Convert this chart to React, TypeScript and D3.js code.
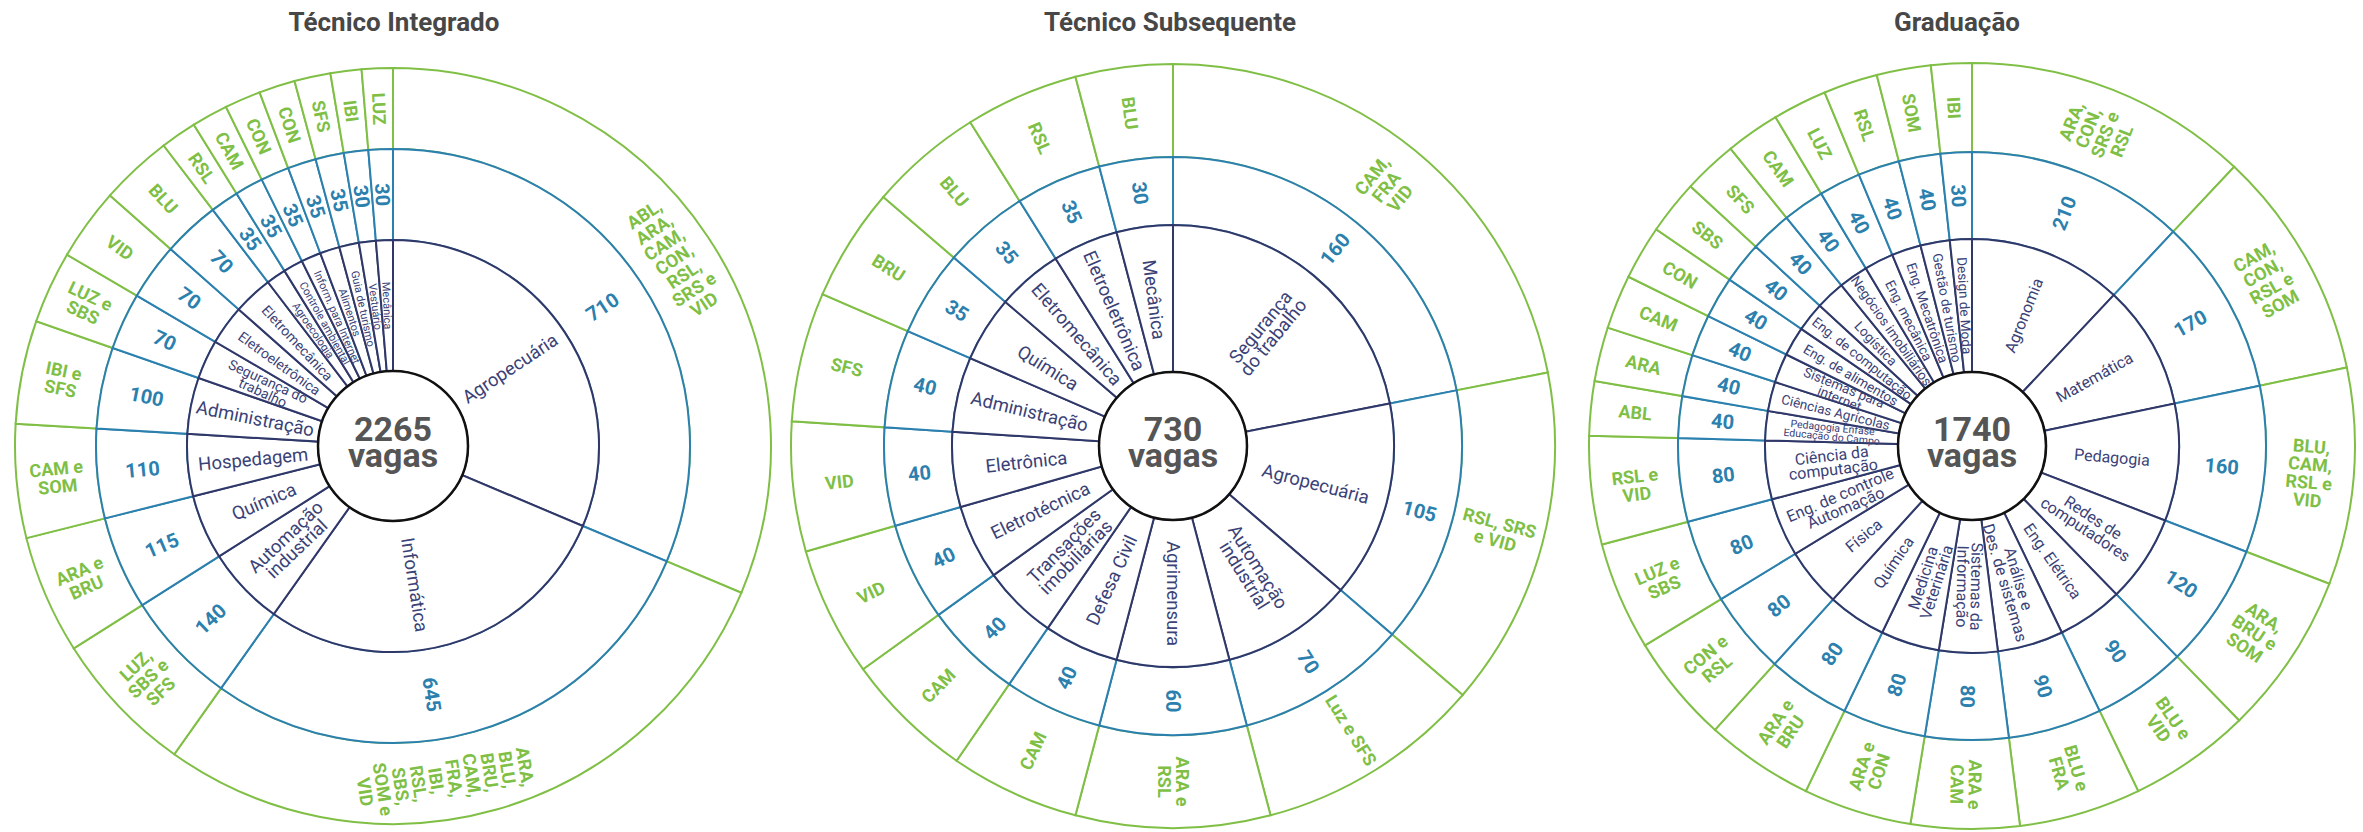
import React, { useEffect, useRef } from "react";
import * as d3 from "d3";

// Técnico Integrado
const integradoCursos = [
  "Agropecuária", "Informática", "Automação\nindustrial", "Química", "Hospedagem",
  "Administração", "Segurança do\ntrabalho", "Eletroeletrônica", "Eletromecânica",
  "Agroecologia", "Controle ambiental", "Inform. para Internet", "Alimentos",
  "Guia de turismo", "Vestuário", "Mecânica",
];
const integradoVagas = [710, 645, 140, 115, 110, 100, 70, 70, 70, 35, 35, 35, 35, 35, 30, 30];
const integradoCampi = [
  "ABL,\nARA,\nCAM,\nCON,\nRSL,\nSRS e\nVID",
  "ARA,\nBLU,\nBRU,\nCAM,\nFRA,\nIBI,\nRSL,\nSBS,\nSOM e\nVID",
  "LUZ,\nSBS e\nSFS", "ARA e\nBRU", "CAM e\nSOM", "IBI e\nSFS", "LUZ e\nSBS",
  "VID", "BLU", "RSL", "CAM", "CON", "CON", "SFS", "IBI", "LUZ",
];

// Técnico Subsequente
const subsequenteCursos = [
  "Segurança\ndo trabalho", "Agropecuária", "Automação\nindustrial", "Agrimensura",
  "Defesa Civil", "Transações\nimobiliárias", "Eletrotécnica", "Eletrônica",
  "Administração", "Química", "Eletromecânica", "Eletroeletrônica", "Mecânica",
];
const subsequenteVagas = [160, 105, 70, 60, 40, 40, 40, 40, 40, 35, 35, 35, 30];
const subsequenteCampi = [
  "CAM,\nFRA\nVID", "RSL, SRS\ne VID", "Luz e SFS", "ARA e\nRSL",
  "CAM", "CAM", "VID", "VID", "SFS", "BRU", "BLU", "RSL", "BLU",
];

// Graduação
const graduacaoCursos = [
  "Agronomia", "Matemática", "Pedagogia", "Redes de\ncomputadores", "Eng. Elétrica",
  "Análise e\nDes. de sistemas", "Sistemas da\nInformação", "Medicina\nVeterinária",
  "Química", "Física", "Eng. de controle\nAutomação", "Ciência da\ncomputação",
  "Pedagogia Ênfase\nEducação do Campo", "Ciências Agrícolas", "Sistemas para\ninternet",
  "Eng. de alimentos", "Eng. de computação", "Logística", "Negócios imobiliários",
  "Eng. mecânica", "Eng. Mecatrônica", "Gestão de turismo", "Design de Moda",
];
const graduacaoVagas = [210, 170, 160, 120, 90, 90, 80, 80, 80, 80, 80, 80, 40, 40, 40, 40, 40, 40, 40, 40, 40, 40, 30];
const graduacaoCampi = [
  "ARA,\nCON,\nSRS e\nRSL", "CAM,\nCON,\nRSL e\nSOM", "BLU,\nCAM,\nRSL e\nVID",
  "ARA,\nBRU e\nSOM", "BLU e\nVID", "BLU e\nFRA", "ARA e\nCAM", "ARA e\nCON",
  "ARA e\nBRU", "CON e\nRSL", "LUZ e\nSBS", "RSL e\nVID",
  "ABL", "ARA", "CAM", "CON", "SBS", "SFS", "CAM", "LUZ", "RSL", "SOM", "IBI",
];

const titles = ["Técnico Integrado", "Técnico Subsequente", "Graduação"];
const totals = ["2265", "730", "1740"];

const NAVY = "#2f3869";
const NAVY_TEXT = "#3a4277";
const BLUE = "#2b80ae";
const GREEN = "#80bf46";
const FONT = "Roboto, 'Noto Sans', sans-serif";
const CY = 446;

// layout of each wheel: center x, ring radii (center, cursos, vagas, campi)
const layout = [
  { cx: 393, titleX: 394, radii: [75, 206, 297, 378], navySize: (deg) => (deg < 8 ? 11 : deg < 14 ? 14 : 18.5) },
  { cx: 1173, titleX: 1170, radii: [74, 221, 289, 382], navySize: () => 18.5 },
  { cx: 1972, titleX: 1957, radii: [74, 207, 294, 383], navySize: (deg) => (deg < 10 ? 13.5 : 16) },
];

const tinyLabels = new Set(["Pedagogia Ênfase\nEducação do Campo"]);
// the original nudges the Informática labels a bit past the slice middle
const labelShift = [{ "Informática": 7 }, {}, {}];

function addLabel(g, d, radius, text, size, lineH, color, weight, shiftDeg) {
  const mid = (d.startAngle + d.endAngle) / 2 + (shiftDeg * Math.PI) / 180;
  const deg = (mid * 180) / Math.PI;
  const rot = deg > 185 ? deg + 90 : deg - 90;
  const x = radius * Math.sin(mid);
  const y = -radius * Math.cos(mid);
  const lines = text.split("\n");
  const t = g
    .append("text")
    .attr("transform", `translate(${x},${y}) rotate(${rot})`)
    .attr("text-anchor", "middle")
    .attr("fill", color)
    .style("font-family", FONT)
    .style("font-size", `${size}px`)
    .style("font-weight", weight);
  lines.forEach((ln, i) => {
    t.append("tspan")
      .attr("x", 0)
      .attr("y", (i - (lines.length - 1) / 2) * lineH)
      .attr("dy", "0.35em")
      .text(ln);
  });
}

function drawWheel(svg, idx, cursos, vagas, campi) {
  const { cx, titleX, radii, navySize } = layout[idx];
  const [r0, r1, r2, r3] = radii;

  svg
    .append("text")
    .attr("x", titleX)
    .attr("y", 31)
    .attr("text-anchor", "middle")
    .attr("fill", "#474747")
    .style("font-family", FONT)
    .style("font-size", "26px")
    .style("font-weight", 700)
    .text(titles[idx]);

  const arcs = d3.pie().sort(null).value((d) => d)(vagas);
  const g = svg.append("g").attr("transform", `translate(${cx},${CY})`);

  const rings = [
    { inner: r2, outer: r3, color: GREEN },
    { inner: r1, outer: r2, color: BLUE },
    { inner: r0, outer: r1, color: NAVY },
  ];
  rings.forEach((ring) => {
    const arcGen = d3.arc().innerRadius(ring.inner).outerRadius(ring.outer);
    g.append("g")
      .selectAll("path")
      .data(arcs)
      .join("path")
      .attr("d", arcGen)
      .attr("fill", "#fff")
      .attr("stroke", ring.color)
      .attr("stroke-width", 2);
  });

  g.append("circle").attr("r", r0).attr("fill", "#fff").attr("stroke", "#111").attr("stroke-width", 2.5);

  const labels = g.append("g");
  arcs.forEach((d, i) => {
    const deg = ((d.endAngle - d.startAngle) * 180) / Math.PI;
    const size = tinyLabels.has(cursos[i]) ? 10.5 : navySize(deg);
    const shift = labelShift[idx][cursos[i]] || 0;
    addLabel(labels, d, (r0 + r1) / 2, cursos[i], size, size * 0.88, NAVY_TEXT, 400, shift);
    addLabel(labels, d, (r1 + r2) / 2, String(vagas[i]), 20, 20, BLUE, 700, shift);
    addLabel(labels, d, (r2 + r3) / 2, campi[i], 18, 18, GREEN, 700, shift);
  });

  const center = g
    .append("text")
    .attr("text-anchor", "middle")
    .attr("fill", "#555")
    .style("font-family", FONT)
    .style("font-size", "34px")
    .style("font-weight", 700);
  center.append("tspan").attr("x", 0).attr("y", -5).text(totals[idx]);
  center.append("tspan").attr("x", 0).attr("y", 21).text("vagas");
}

export default function App() {
  const ref = useRef(null);

  useEffect(() => {
    const svg = d3.select(ref.current);
    svg.selectAll("*").remove();
    drawWheel(svg, 0, integradoCursos, integradoVagas, integradoCampi);
    drawWheel(svg, 1, subsequenteCursos, subsequenteVagas, subsequenteCampi);
    drawWheel(svg, 2, graduacaoCursos, graduacaoVagas, graduacaoCampi);
  }, []);

  return (
    <svg
      ref={ref}
      width={2363}
      height={832}
      style={{ position: "absolute", left: 0, top: 0, background: "#fff" }}
    />
  );
}
